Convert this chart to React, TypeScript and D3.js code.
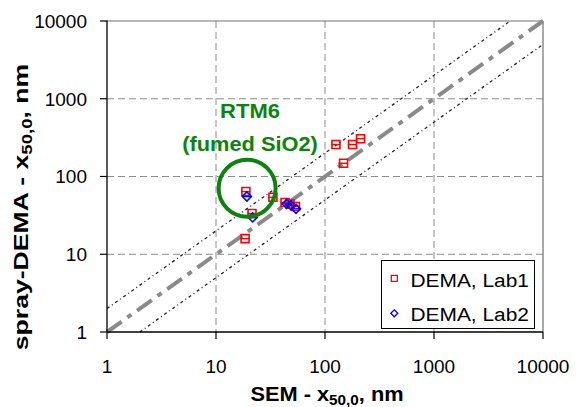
import React from "react";
import * as d3 from "d3";

const lab1X = [18.8, 21.4, 18.5, 33.3, 43, 47.7, 53.6, 126, 179, 212, 148];
const lab1Y = [64, 33.4, 15.9, 54, 46.3, 44.3, 41.1, 258, 258, 306, 148];
const lab1XErr = [1.8, 2, 1.8, 3, 4, 4, 5, 12, 16, 20, 15];
const lab2X = [19.2, 21.7, 44.5, 48.8, 54.2];
const lab2Y = [55.3, 29.7, 44.3, 42.4, 38.4];
const lab2XErr = [1.8, 2, 4, 4.5, 5];
const ticks = [1, 10, 100, 1000, 10000];
const gridTicks = [10, 100, 1000];
const legendLabels = ["DEMA, Lab1", "DEMA, Lab2"];
const refFactors = [0.5, 2];
const annotationCenter = { x: 19.3, y: 70.5 };

const W = 577;
const H = 407;
const FONT = "Liberation Sans, Arial, Helvetica, sans-serif";

export default function App() {
  const x = d3.scaleLog().domain([1, 10000]).range([107, 543]);
  const y = d3.scaleLog().domain([1, 10000]).range([332, 21]);
  const line = d3
    .line<[number, number]>()
    .x((d) => x(d[0]))
    .y((d) => y(d[1]));

  const refLine = (f: number): [number, number][] => {
    const x0 = Math.max(1, 1 / f);
    const x1 = Math.min(10000, 10000 / f);
    return [
      [x0, x0 * f],
      [x1, x1 * f],
    ];
  };

  const sq = (cx: number, cy: number, s: number) =>
    `M${cx - s / 2},${cy - s / 2}h${s}v${s}h${-s}Z`;
  const dia = (cx: number, cy: number, s: number) =>
    `M${cx},${cy - s / 2}L${cx + s / 2},${cy}L${cx},${cy + s / 2}L${cx - s / 2},${cy}Z`;

  return (
    <svg
      width={W}
      height={H}
      style={{ position: "absolute", left: 0, top: 0, background: "#fff" }}
      fontFamily={FONT}
    >
      <rect x={0} y={0} width={W} height={H} fill="#fff" />
      {/* gridlines */}
      {gridTicks.map((t) => (
        <g key={"g" + t}>
          <line x1={x(t)} x2={x(t)} y1={y(10000)} y2={y(1)} stroke="#8c8c8c" strokeWidth={1} strokeDasharray="7,4" />
          <line x1={x(1)} x2={x(10000)} y1={y(t)} y2={y(t)} stroke="#8c8c8c" strokeWidth={1} strokeDasharray="7,4" />
        </g>
      ))}
      <line x1={x(1)} x2={x(10000)} y1={y(10000)} y2={y(10000)} stroke="#707070" strokeWidth={1.2} />
      <line x1={x(10000)} x2={x(10000)} y1={y(10000)} y2={y(1)} stroke="#707070" strokeWidth={1.2} />

      {/* reference lines */}
      {refFactors.map((f) => (
        <path key={"r" + f} d={line(refLine(f)) || ""} fill="none" stroke="#222" strokeWidth={1.3} strokeDasharray="3,3,1,3" />
      ))}
      <path d={line(refLine(1)) || ""} fill="none" stroke="#8a8a8a" strokeWidth={4} strokeDasharray="18,7,5,7" />

      {/* Lab1 */}
      {lab1X.map((v, i) => (
        <g key={"a" + i}>
          <line x1={x(v - lab1XErr[i])} x2={x(v + lab1XErr[i])} y1={y(lab1Y[i])} y2={y(lab1Y[i])} stroke="#ff0000" strokeWidth={1.4} />
          <path d={sq(x(v), y(lab1Y[i]), 8)} fill="none" stroke="#ff0000" strokeWidth={1.6} />
        </g>
      ))}
      {/* Lab2 */}
      {lab2X.map((v, i) => (
        <g key={"b" + i}>
          <line x1={x(v - lab2XErr[i])} x2={x(v + lab2XErr[i])} y1={y(lab2Y[i])} y2={y(lab2Y[i])} stroke="#0000ff" strokeWidth={1.4} />
          <path d={dia(x(v), y(lab2Y[i]), 9)} fill="none" stroke="#0000ff" strokeWidth={1.6} />
        </g>
      ))}

      {/* axes */}
      <line x1={x(1)} x2={x(1)} y1={y(10000) - 0.5} y2={y(1)} stroke="#000" strokeWidth={1.3} />
      <line x1={x(1)} x2={x(10000)} y1={y(1)} y2={y(1)} stroke="#000" strokeWidth={1.3} />
      {ticks.map((t) => (
        <g key={"t" + t}>
          <line x1={x(1) - 7} x2={x(1)} y1={y(t)} y2={y(t)} stroke="#000" strokeWidth={1.2} />
          <line x1={x(t)} x2={x(t)} y1={y(1)} y2={y(1) + 7} stroke="#000" strokeWidth={1.2} />
          <text x={87} y={y(t)} dy="0.36em" textAnchor="end" fontSize={19}>
            {t}
          </text>
          <text x={x(t)} y={373} textAnchor="middle" fontSize={19}>
            {t}
          </text>
        </g>
      ))}

      {/* axis titles */}
      <g transform="translate(327,401) scale(1.09,1)">
        <text textAnchor="middle" fontSize={20} fontWeight="bold">
          SEM - x<tspan fontSize={14} dy={4}>50,0</tspan>
          <tspan dy={-4}>, nm</tspan>
        </text>
      </g>
      <g transform="translate(28,207) rotate(-90) scale(1.33,1)">
        <text textAnchor="middle" fontSize={20} fontWeight="bold">
          spray-DEMA - x<tspan fontSize={14} dy={4}>50,0</tspan>
          <tspan dy={-4}>, nm</tspan>
        </text>
      </g>

      {/* annotation */}
      <circle cx={x(annotationCenter.x)} cy={y(annotationCenter.y)} r={28.5} fill="none" stroke="#0a840a" strokeWidth={4} />
      <g transform="translate(250,118) scale(1.1,1)">
        <text textAnchor="middle" fontSize={20} fontWeight="bold" fill="#0a840a">
          RTM6
        </text>
      </g>
      <g transform="translate(250,151) scale(1.09,1)">
        <text textAnchor="middle" fontSize={20} fontWeight="bold" fill="#0a840a">
          (fumed SiO2)
        </text>
      </g>

      {/* legend */}
      <rect x={381.5} y={260.5} width={153} height={68} fill="#fff" stroke="#000" strokeWidth={1} />
      <path d={sq(394.3, 278.3, 6)} fill="none" stroke="#ff0000" strokeWidth={1.3} />
      <path d={dia(394.3, 313.3, 7)} fill="none" stroke="#0000ff" strokeWidth={1.3} />
      {legendLabels.map((l, i) => (
        <g key={l} transform={`translate(410.5,${286.5 + i * 34.5}) scale(1.1,1)`}>
          <text fontSize={19}>{l}</text>
        </g>
      ))}
    </svg>
  );
}
